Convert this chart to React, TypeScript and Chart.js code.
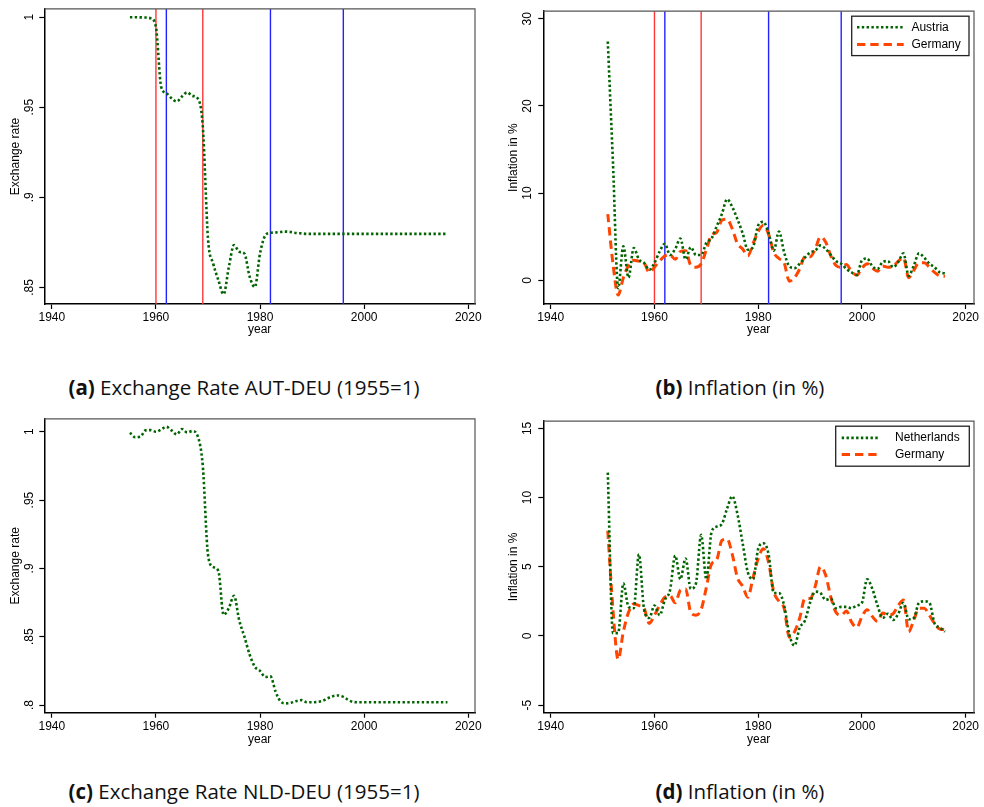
import React, { useEffect, useRef } from 'react';
import { Chart, registerables } from 'chart.js';

Chart.register(...registerables);

const FONT = '"Liberation Sans", Arial, Helvetica, sans-serif';
const CAPTION_FONT = '"Open Sans", "Noto Sans", sans-serif';
const GREEN = '#006400';
const ORANGE = '#ff4500';
const RED = 'rgb(255,55,55)';
const BLUE = 'rgb(35,35,255)';

// ---------- data ----------
const yearsExch = [
  1955, 1956, 1957, 1958, 1959, 1960, 1961, 1962, 1963, 1964, 1965, 1966, 1967, 1968, 1969,
  1970, 1971, 1972, 1973, 1974, 1975, 1976, 1977, 1978, 1979, 1980, 1981, 1982, 1983, 1984,
  1985, 1986, 1987, 1988, 1989, 1990, 1991, 1992, 1993, 1994, 1995, 1996, 1997, 1998, 1999,
  2000, 2001, 2002, 2003, 2004, 2005, 2006, 2007, 2008, 2009, 2010, 2011, 2012, 2013, 2014,
  2015, 2016,
];

const exchAUT = [
  1.0, 1.0, 0.9999, 0.9998, 0.9994, 0.9945, 0.9614, 0.9578, 0.955, 0.9532, 0.956, 0.9583, 0.9563, 0.955, 0.9395,
  0.877, 0.8632, 0.854, 0.8462, 0.8612, 0.8735, 0.8698, 0.8688, 0.856, 0.8502, 0.8689, 0.8788, 0.8803, 0.8805, 0.8808,
  0.881, 0.8807, 0.8802, 0.88, 0.8797, 0.8797, 0.8797, 0.8797, 0.8797, 0.8797, 0.8797, 0.8797, 0.8797, 0.8797, 0.8797,
  0.8797, 0.8797, 0.8797, 0.8797, 0.8797, 0.8797, 0.8797, 0.8797, 0.8797, 0.8797, 0.8797, 0.8797, 0.8797, 0.8797, 0.8797,
  0.8797, 0.8797,
];

const exchNLD = [
  0.9993, 0.996, 0.9964, 1.001, 1.0012, 1.0, 1.0017, 1.0036, 1.001, 0.998, 1.002, 0.9995, 1.0005, 0.997, 0.975,
  0.91, 0.901, 0.898, 0.866, 0.871, 0.88, 0.862, 0.85, 0.837, 0.828, 0.825, 0.8205, 0.821, 0.8097, 0.8024,
  0.8012, 0.8017, 0.803, 0.8036, 0.802, 0.802, 0.8024, 0.803, 0.805, 0.8065, 0.807, 0.806, 0.8036, 0.8022, 0.802,
  0.802, 0.802, 0.802, 0.802, 0.802, 0.802, 0.802, 0.802, 0.802, 0.802, 0.802, 0.802, 0.802, 0.802, 0.802,
  0.802, 0.802,
];

const yearsInfl = [
  1951, 1952, 1953, 1954, 1955, 1956, 1957, 1958, 1959, 1960, 1961, 1962, 1963, 1964, 1965,
  1966, 1967, 1968, 1969, 1970, 1971, 1972, 1973, 1974, 1975, 1976, 1977, 1978, 1979, 1980,
  1981, 1982, 1983, 1984, 1985, 1986, 1987, 1988, 1989, 1990, 1991, 1992, 1993, 1994, 1995,
  1996, 1997, 1998, 1999, 2000, 2001, 2002, 2003, 2004, 2005, 2006, 2007, 2008, 2009, 2010,
  2011, 2012, 2013, 2014, 2015, 2016,
];

const inflAUT = [
  27.4, 13.5, -0.9, 3.9, 0.3, 3.7, 2.4, 2.0, 1.2, 2.0, 3.3, 4.2, 2.9, 3.6, 4.8,
  2.4, 3.8, 2.9, 2.9, 4.3, 4.8, 6.2, 7.6, 9.3, 8.4, 7.0, 5.4, 3.5, 3.8, 6.3,
  6.7, 5.4, 3.4, 5.6, 3.2, 1.6, 1.4, 1.9, 2.6, 3.2, 3.4, 4.0, 3.6, 2.9, 2.2,
  1.9, 1.3, 0.9, 0.6, 2.3, 2.5, 1.6, 1.3, 2.1, 2.2, 1.5, 2.1, 3.1, 0.5, 1.7,
  3.1, 2.6, 1.9, 1.5, 0.9, 0.8,
];

const inflDEU = [
  7.6, 1.9, -1.7, 0.3, 1.7, 2.3, 2.2, 2.0, 0.9, 1.5, 2.2, 2.8, 2.9, 2.4, 3.3,
  3.4, 1.7, 1.5, 1.9, 3.5, 5.2, 5.5, 6.9, 7.0, 5.9, 4.2, 3.6, 2.8, 4.2, 5.6,
  6.3, 5.3, 3.2, 2.5, 2.0, -0.1, 0.3, 1.3, 2.7, 2.7, 3.6, 5.0, 4.4, 2.8, 1.7,
  1.5, 1.8, 1.0, 0.6, 1.4, 1.9, 1.4, 1.05, 1.65, 1.5, 1.6, 2.2, 2.6, 0.3, 1.15,
  2.0, 2.0, 1.5, 0.9, 0.5, 0.45,
];

const inflNLD = [
  11.8, 0.2, 0.2, 3.8, 2.1, 2.0, 5.9, 1.9, 1.3, 2.2, 1.5, 2.6, 3.3, 5.8, 4.1,
  5.6, 3.4, 3.8, 7.3, 4.1, 7.5, 7.9, 8.1, 9.2, 10.1, 8.8, 6.7, 4.6, 4.1, 6.3,
  6.7, 5.9, 3.1, 3.1, 2.2, 0.1, -0.7, 0.6, 1.1, 2.4, 3.2, 3.1, 2.6, 2.7, 2.0,
  2.1, 2.1, 2.0, 2.2, 2.4, 4.1, 3.4, 2.2, 1.3, 1.6, 1.15, 1.6, 2.4, 1.2, 1.3,
  2.4, 2.5, 2.4, 0.9, 0.6, 0.3,
];

const xTicks = [1940, 1960, 1980, 2000, 2020];
const yTicksExchA = [0.85, 0.9, 0.95, 1];
const yLabelsExchA = ['.85', '.9', '.95', '1'];
const yTicksExchC = [0.8, 0.85, 0.9, 0.95, 1];
const yLabelsExchC = ['.8', '.85', '.9', '.95', '1'];
const yTicksInflB = [0, 10, 20, 30];
const yLabelsInflB = ['0', '10', '20', '30'];
const yTicksInflD = [-5, 0, 5, 10, 15];
const yLabelsInflD = ['-5', '0', '5', '10', '15'];
const refYearsRed = [1960, 1969];
const refYearsBlue = [1962, 1982, 1996];

const captionA = ['(a)', 'Exchange Rate AUT-DEU (1955=1)'];
const captionB = ['(b)', 'Inflation (in %)'];
const captionC = ['(c)', 'Exchange Rate NLD-DEU (1955=1)'];
const captionD = ['(d)', 'Inflation (in %)'];

// ---------- helpers ----------
const toPoints = (xs: number[], ys: number[]) => xs.map((x, i) => ({ x, y: ys[i] }));

const greenStyle = {
  borderColor: GREEN,
  borderWidth: 2.6,
  borderDash: [2.4, 2.4],
  borderCapStyle: 'butt',
  pointRadius: 0,
  cubicInterpolationMode: 'monotone',
  fill: false,
};
const orangeStyle = {
  borderColor: ORANGE,
  borderWidth: 3,
  borderDash: [8.3, 5],
  borderCapStyle: 'butt',
  pointRadius: 0,
  cubicInterpolationMode: 'monotone',
  fill: false,
};

const framePlugin = {
  id: 'frame',
  afterDraw(chart: any) {
    const { ctx, chartArea: a } = chart;
    ctx.save();
    ctx.strokeStyle = '#555';
    ctx.lineWidth = 1.2;
    ctx.beginPath();
    ctx.moveTo(a.left, a.top);
    ctx.lineTo(a.right, a.top);
    ctx.lineTo(a.right, a.bottom);
    ctx.stroke();
    ctx.restore();
  },
};

const refLinePlugin = {
  id: 'refLines',
  beforeDatasetsDraw(chart: any, _args: any, opts: any) {
    if (!opts || !opts.lines) return;
    const { ctx, chartArea: a, scales } = chart;
    ctx.save();
    opts.lines.forEach((l: any) => {
      const x = scales.x.getPixelForValue(l.value);
      ctx.strokeStyle = l.color;
      ctx.lineWidth = 1.4;
      ctx.beginPath();
      ctx.moveTo(x, a.top);
      ctx.lineTo(x, a.bottom);
      ctx.stroke();
    });
    ctx.restore();
  },
};

const boxLegendPlugin = {
  id: 'boxLegend',
  afterDatasetsDraw(chart: any, _args: any, opts: any) {
    if (!opts || !opts.show) return;
    const { ctx, chartArea: a } = chart;
    const x0 = a.right - opts.offsetRight - opts.width;
    const y0 = a.top + opts.offsetTop;
    ctx.save();
    ctx.fillStyle = '#fff';
    ctx.fillRect(x0, y0, opts.width, opts.height);
    ctx.strokeStyle = '#222';
    ctx.lineWidth = 1.3;
    ctx.strokeRect(x0, y0, opts.width, opts.height);
    chart.data.datasets.forEach((ds: any, i: number) => {
      const cy = y0 + opts.rowY[i];
      ctx.setLineDash(ds.borderDash || []);
      ctx.strokeStyle = ds.borderColor;
      ctx.lineWidth = ds.borderWidth;
      ctx.lineCap = 'butt';
      ctx.beginPath();
      ctx.moveTo(x0 + opts.padLeft, cy);
      ctx.lineTo(x0 + opts.padLeft + opts.sample, cy);
      ctx.stroke();
      ctx.setLineDash([]);
      ctx.fillStyle = '#000';
      ctx.font = '12px ' + FONT;
      ctx.textBaseline = 'middle';
      ctx.textAlign = 'left';
      ctx.fillText(ds.label, x0 + opts.padLeft + opts.sample + opts.gap, cy);
    });
    ctx.restore();
  },
};

type PanelSpec = {
  left: number;
  top: number;
  width: number;
  height: number;
  padTop: number;
  padRight: number;
  yAxisW: number;
  xAxisH: number;
  xMin: number;
  xMax: number;
  yMin: number;
  yMax: number;
  yTicks: number[];
  yLabels: string[];
  yTickPad: number;
  yTitle: string;
  yTitlePad: number;
  datasets: any[];
  refLines?: { value: number; color: string }[];
  legend?: any;
};

function Panel({ spec }: { spec: PanelSpec }) {
  const ref = useRef<HTMLCanvasElement | null>(null);
  useEffect(() => {
    if (!ref.current) return;
    const s = spec;
    const tickFont = { family: FONT, size: 12 };
    const chart = new Chart(ref.current, {
      type: 'line',
      data: { datasets: s.datasets },
      options: {
        animation: false,
        responsive: false,
        devicePixelRatio: 1,
        layout: { padding: { top: s.padTop, right: s.padRight, left: 0, bottom: 0 } },
        plugins: {
          legend: { display: false },
          tooltip: { enabled: false },
          refLines: { lines: s.refLines || [] },
          boxLegend: s.legend || { show: false },
        } as any,
        scales: {
          x: {
            type: 'linear',
            min: s.xMin,
            max: s.xMax,
            afterBuildTicks: (sc: any) => {
              sc.ticks = xTicks.map((v) => ({ value: v }));
            },
            afterFit: (sc: any) => {
              sc.height = s.xAxisH;
            },
            ticks: {
              autoSkip: false,
              maxRotation: 0,
              minRotation: 0,
              padding: 1.5,
              color: '#000',
              font: tickFont,
              callback: (v: any) => String(v),
            },
            grid: {
              drawOnChartArea: false,
              drawTicks: true,
              tickLength: 5,
              tickColor: '#000',
              tickWidth: 1.2,
            },
            border: { display: true, color: '#000', width: 1.5 },
            title: {
              display: true,
              text: 'year',
              color: '#000',
              font: tickFont,
              padding: { top: 0, bottom: 8 },
            },
          },
          y: {
            type: 'linear',
            min: s.yMin,
            max: s.yMax,
            afterBuildTicks: (sc: any) => {
              sc.ticks = s.yTicks.map((v) => ({ value: v }));
            },
            afterFit: (sc: any) => {
              sc.width = s.yAxisW;
            },
            ticks: {
              autoSkip: false,
              minRotation: 90,
              maxRotation: 90,
              crossAlign: 'center',
              padding: s.yTickPad,
              color: '#000',
              font: tickFont,
              callback: (v: any) => {
                const idx = s.yTicks.findIndex((t) => Math.abs(t - v) < 1e-9);
                return idx >= 0 ? s.yLabels[idx] : '';
              },
            },
            grid: {
              drawOnChartArea: false,
              drawTicks: true,
              tickLength: 5,
              tickColor: '#000',
              tickWidth: 1.2,
            },
            border: { display: true, color: '#000', width: 1.5 },
            title: {
              display: true,
              text: s.yTitle,
              color: '#000',
              font: tickFont,
              padding: { top: s.yTitlePad, bottom: 0 },
            },
          },
        },
      } as any,
      plugins: [framePlugin, refLinePlugin, boxLegendPlugin],
    });
    return () => chart.destroy();
  }, [spec]);
  return (
    <canvas
      ref={ref}
      width={spec.width}
      height={spec.height}
      style={{
        position: 'absolute',
        left: spec.left,
        top: spec.top,
        width: spec.width,
        height: spec.height,
      }}
    />
  );
}

const refs = [
  ...refYearsRed.map((v) => ({ value: v, color: RED })),
  ...refYearsBlue.map((v) => ({ value: v, color: BLUE })),
];

const specA: PanelSpec = {
  left: 0, top: 0, width: 490, height: 345,
  padTop: 6.7, padRight: 15, yAxisW: 44.3, xAxisH: 41,
  xMin: 1938.55, xMax: 2021.3,
  yMin: 0.8408, yMax: 1.0046,
  yTicks: yTicksExchA, yLabels: yLabelsExchA, yTickPad: 1.7,
  yTitle: 'Exchange rate', yTitlePad: 8.8,
  datasets: [{ label: 'Austria', data: toPoints(yearsExch, exchAUT), ...greenStyle }],
  refLines: refs,
};

const specB: PanelSpec = {
  left: 495, top: 0, width: 489, height: 345,
  padTop: 7.3, padRight: 10, yAxisW: 48.3, xAxisH: 41,
  xMin: 1938.57, xMax: 2021.6,
  yMin: -2.72, yMax: 30.87,
  yTicks: yTicksInflB, yLabels: yLabelsInflB, yTickPad: 4,
  yTitle: 'Inflation in %', yTitlePad: 11.5,
  datasets: [
    { label: 'Austria', data: toPoints(yearsInfl, inflAUT), ...greenStyle },
    { label: 'Germany', data: toPoints(yearsInfl, inflDEU), ...orangeStyle },
  ],
  refLines: refs,
  legend: { show: true, width: 117.3, height: 39.4, offsetRight: 5, offsetTop: 5, padLeft: 5.3, sample: 46.7, gap: 7.7, rowY: [11, 28.4] },
};

const specC: PanelSpec = {
  left: 0, top: 410, width: 490, height: 345,
  padTop: 6, padRight: 15, yAxisW: 44.3, xAxisH: 42.3,
  xMin: 1938.55, xMax: 2021.3,
  yMin: 0.7944, yMax: 1.0094,
  yTicks: yTicksExchC, yLabels: yLabelsExchC, yTickPad: 1.7,
  yTitle: 'Exchange rate', yTitlePad: 8.8,
  datasets: [{ label: 'Netherlands', data: toPoints(yearsExch, exchNLD), ...greenStyle }],
};

const specD: PanelSpec = {
  left: 495, top: 410, width: 489, height: 345,
  padTop: 6, padRight: 10, yAxisW: 48.3, xAxisH: 42.3,
  xMin: 1938.57, xMax: 2021.6,
  yMin: -5.55, yMax: 15.52,
  yTicks: yTicksInflD, yLabels: yLabelsInflD, yTickPad: 4,
  yTitle: 'Inflation in %', yTitlePad: 11.5,
  datasets: [
    { label: 'Netherlands', data: toPoints(yearsInfl, inflNLD), ...greenStyle },
    { label: 'Germany', data: toPoints(yearsInfl, inflDEU), ...orangeStyle },
  ],
  legend: { show: true, width: 133.6, height: 40, offsetRight: 4.7, offsetTop: 5, padLeft: 6, sample: 36, gap: 17.3, rowY: [11.7, 28.3] },
};

function Caption({ cx, top, parts }: { cx: number; top: number; parts: string[] }) {
  return (
    <div
      style={{
        position: 'absolute',
        left: cx - 250,
        width: 500,
        top,
        textAlign: 'center',
        fontFamily: CAPTION_FONT,
        fontSize: 20.5,
        lineHeight: '24px',
        color: '#111',
        whiteSpace: 'nowrap',
      }}
    >
      <b>{parts[0]}</b> {parts[1]}
    </div>
  );
}

export default function App() {
  return (
    <div
      style={{
        position: 'absolute',
        left: 0,
        top: 0,
        width: 984,
        height: 807,
        background: '#fff',
        overflow: 'hidden',
      }}
    >
      <Panel spec={specA} />
      <Panel spec={specB} />
      <Panel spec={specC} />
      <Panel spec={specD} />
      <Caption cx={244} top={375.3} parts={captionA} />
      <Caption cx={740} top={375.3} parts={captionB} />
      <Caption cx={244} top={779.3} parts={captionC} />
      <Caption cx={740} top={779.3} parts={captionD} />
    </div>
  );
}
